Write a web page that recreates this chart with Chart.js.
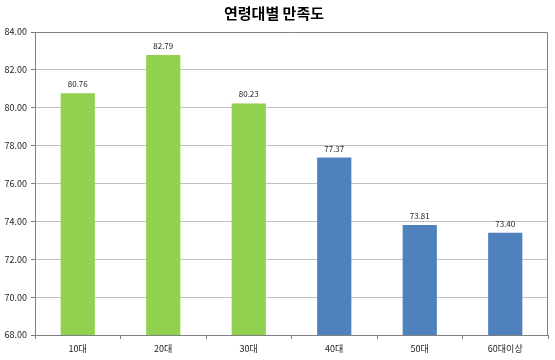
<!DOCTYPE html>
<html><head><meta charset="utf-8">
<script src="https://cdn.jsdelivr.net/npm/chart.js@4/dist/chart.umd.min.js"></script>
<style>html,body{margin:0;padding:0;background:#fff}#wrap{width:555px;height:360px}</style>
</head><body><div id="wrap"><canvas id="c" width="555" height="360"></canvas></div>
<script>
const categories = ['10대','20대','30대','40대','50대','60대이상'];
const values = [80.76, 82.79, 80.23, 77.37, 73.81, 73.40];
const barColors = ['#92D050','#92D050','#92D050','#4F81BD','#4F81BD','#4F81BD'];
const yMin = 68, yMax = 84, yStep = 2;
const titleText = '연령대별 만족도';
const FONT = "'Noto Sans CJK KR', 'Noto Sans', sans-serif";

const labelPlugin = {
  id: 'vlabels',
  afterDatasetsDraw(chart) {
    const ctx = chart.ctx;
    const meta = chart.getDatasetMeta(0);
    ctx.save();
    ctx.font = '8px ' + FONT;
    ctx.fillStyle = '#222';
    ctx.textAlign = 'center';
    ctx.textBaseline = 'bottom';
    meta.data.forEach((bar, i) => {
      ctx.fillText(values[i].toFixed(2), bar.x, bar.y - 5);
    });
    ctx.restore();
  }
};
const boxPlugin = {
  id: 'box',
  afterDraw(chart) {
    const a = chart.chartArea, ctx = chart.ctx;
    ctx.save();
    ctx.strokeStyle = '#808080';
    ctx.lineWidth = 1;
    ctx.beginPath();
    ctx.moveTo(Math.round(a.left)+0.5, Math.round(a.top)+0.5);
    ctx.lineTo(Math.round(a.right)-0.5, Math.round(a.top)+0.5);
    ctx.lineTo(Math.round(a.right)-0.5, Math.round(a.bottom)+0.5);
    ctx.stroke();
    ctx.restore();
  }
};

new Chart(document.getElementById('c'), {
  type: 'bar',
  data: {
    labels: categories,
    datasets: [{ data: values, backgroundColor: barColors, borderWidth: 0, barPercentage: 0.8, categoryPercentage: 0.5 }]
  },
  options: {
    responsive: false,
    animation: false,
    devicePixelRatio: 1,
    layout: { padding: { top: 0, right: 7, bottom: 0, left: 0 } },
    plugins: {
      legend: { display: false },
      tooltip: { enabled: false },
      title: { display: true, text: titleText, color: '#000',
        font: { family: FONT, size: 15, weight: 'bold', lineHeight: 1.2 },
        padding: { top: 4, bottom: 10 } }
    },
    scales: {
      y: {
        min: yMin, max: yMax,
        ticks: { stepSize: yStep, color: '#222', font: { family: FONT, size: 9 }, padding: 4,
          callback: v => v.toFixed(2) },
        grid: { color: '#c0c0c0', tickLength: 4, tickColor: '#808080' },
        border: { color: '#808080' },
        afterFit: s => { s.width = 35; }
      },
      x: {
        ticks: { color: '#222', font: { family: FONT, size: 9 }, padding: 4 },
        grid: { display: true, drawOnChartArea: false, tickLength: 4, color: '#808080', offset: true },
        border: { color: '#808080' },
        afterFit: s => { s.height = 25; }
      }
    }
  },
  plugins: [labelPlugin, boxPlugin]
});
</script></body></html>
